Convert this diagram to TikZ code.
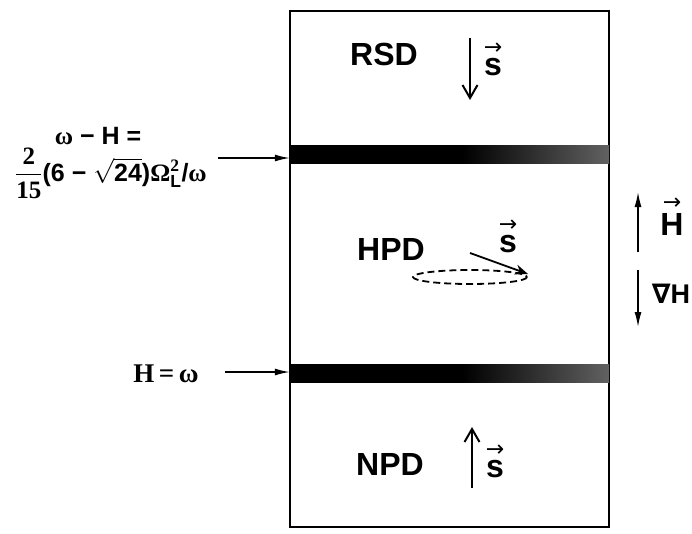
\documentclass[tikz,border=0pt]{standalone}
\usepackage{fix-cm}
\usepackage{amsmath}
\usepackage{fontspec}
\setmainfont{Liberation Sans}
\newfontfamily\serif{Liberation Serif}
\newfontfamily\sym{DejaVu Sans}
\usetikzlibrary{arrows.meta}

\pgfdeclarehorizontalshading{bandfade}{100bp}{color(0bp)=(black); color(52bp)=(black); color(75bp)=(black!62); color(100bp)=(black!62)}

% letter with a small arrow over it
\newcommand{\arrowover}[1]{\shortstack{{\sym\mdseries\fontsize{22}{22}\selectfont →}\\#1}}

\begin{document}
\begin{tikzpicture}[
    x=1pt, y=-1pt,
    frame/.style={
        draw,
        line width=2.5pt
    },
    band/.style={
        rectangle,
        shading=bandfade,
        minimum width=319pt,
        minimum height=18pt,
        inner sep=0pt
    },
    phase/.style={
        anchor=base,
        inner sep=0pt,
        font=\fontsize{32}{36}\selectfont\bfseries
    },
    note/.style={
        anchor=base,
        inner sep=0pt,
        font=\fontsize{25}{29}\selectfont\bfseries
    },
    spin/.style={
        line width=2pt,
        -{Straight Barb[length=13pt,width=15pt]}
    },
    pointer/.style={
        line width=1.5pt,
        -{Latex[length=15pt,width=7pt]}
    }
]
\useasboundingbox (0,0) rectangle (692,533);

% Cell and the two interfaces

\draw[frame] (290,11) rectangle (609,527);

\node[band] (upper) at (449.5,154) {};
\node[band] (lower) at (449.5,373) {};

% Phases

\node[phase] (rsd) at (384,65) {RSD};
\node[phase] (rsds) at (493,75) {\arrowover{s}};
\coordinate (rsdtop) at (470,38);
\coordinate (rsdbot) at (470,100);

\node[phase] (hpd) at (391,260) {HPD};
\node[phase] (hpds) at (508,252) {\arrowover{s}};
\coordinate (prec) at (470,277);
\coordinate (hpdtail) at (470,253);
\coordinate (hpdtip) at (528,274);

\node[phase] (npd) at (390,475) {NPD};
\node[phase] (npds) at (495,477) {\arrowover{s}};
\coordinate (npdbot) at (472,488);
\coordinate (npdtop) at (472,427);

% Field and gradient

\node[phase] (field) at (672,235) {\arrowover{H}};
\node[phase, font=\fontsize{27}{30}\selectfont\bfseries] (grad) at (671,303) {{\sym ∇}H};
\coordinate (hbot) at (638,252);
\coordinate (htop) at (638,192);
\coordinate (gtop) at (638,270);
\coordinate (gbot) at (638,327);

% Conditions on the left

\node[note] (cond1) at (98,144) {{\serif ω} − H =};
\node[note] (cond2) at (111,181) {$\dfrac{\text{\serif 2}}{\text{\serif 15}}$(6 − $\sqrt{\text{24}}$)$\text{\serif Ω}_{\text{L}}^{\text{\serif 2}}$/{\serif ω}};
\node[note, font=\fontsize{27}{30}\selectfont\serif\bfseries] (cond3) at (166,382) {H\,=\,ω};
\coordinate (ptr1) at (218,158);
\coordinate (ptr2) at (225,372);

% Arrows

\draw[spin] (rsdtop)--(rsdbot);
\draw[spin] (npdbot)--(npdtop);
\draw[line width=1.8pt, dash pattern=on 7pt off 4pt] (prec) ellipse [x radius=57, y radius=7];
\draw[line width=1.8pt, -{Stealth[length=13pt,width=10pt]}] (hpdtail)--(hpdtip);

\draw[pointer] (hbot)--(htop);
\draw[pointer] (gtop)--(gbot);

\draw[pointer] (ptr1)--(ptr1 -| upper.west);
\draw[pointer] (ptr2)--(ptr2 -| lower.west);

\end{tikzpicture}
\end{document}
